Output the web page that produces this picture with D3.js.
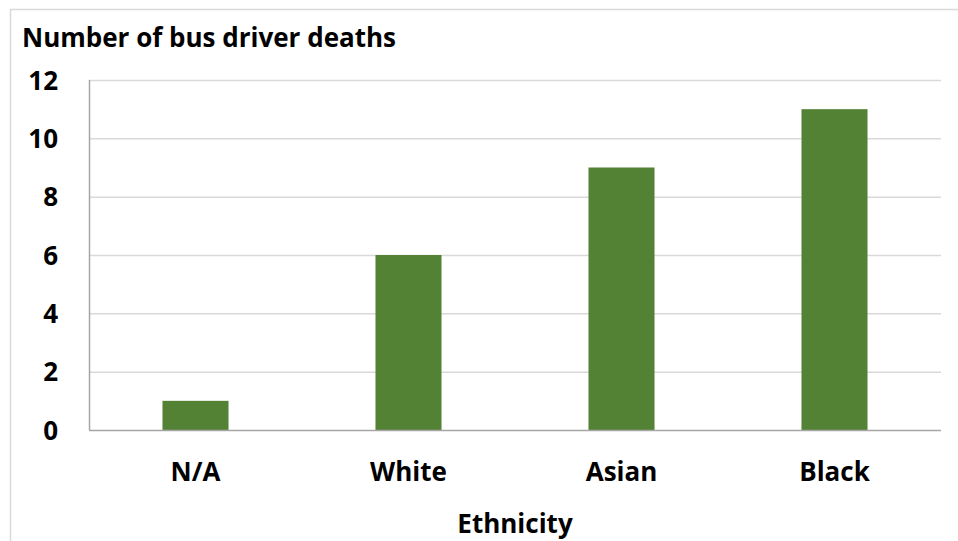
<!DOCTYPE html>
<html><head><meta charset="utf-8">
<script src="https://cdn.jsdelivr.net/npm/d3@7"></script>
<style>body{margin:0;background:#fff}svg{display:block}text{font-family:"Open Sans",sans-serif;font-weight:bold;fill:#000}</style>
</head><body>
<script>
const categories = ["N/A","White","Asian","Black"];
const values = [1,6,9,11];
const yTicks = [0,2,4,6,8,10,12];
const title = "Number of bus driver deaths";
const xTitle = "Ethnicity";

const W=958,H=541;
const svg=d3.select("body").append("svg").attr("width",W).attr("height",H);
svg.append("path").attr("d","M10.5,541 V9.5 H958").attr("fill","none").attr("stroke","#d9d9d9").attr("stroke-width",1.5);

// fit font size so the title spans its reference width
const probe=svg.append("text").style("font-size","24px").text(title);
const fs=Math.min(26,24*381/probe.node().getComputedTextLength());
probe.remove();

const m={l:89,r:941,t:80,b:430};
const x=d3.scaleBand().domain(categories).range([m.l,m.r]).paddingInner(0.69).paddingOuter(0.345);
const y=d3.scaleLinear().domain([0,12]).range([m.b,m.t]);

svg.append("g").selectAll("line").data(yTicks.filter(d=>d>0)).join("line")
 .attr("x1",m.l).attr("x2",m.r).attr("y1",d=>y(d)+0.5).attr("y2",d=>y(d)+0.5)
 .attr("stroke","#d9d9d9").attr("stroke-width",1.5);

svg.append("g").selectAll("rect").data(values).join("rect")
 .attr("x",(d,i)=>x(categories[i])).attr("width",x.bandwidth())
 .attr("y",d=>y(d)).attr("height",d=>y(0)-y(d)).attr("fill","#548235");

svg.append("line").attr("x1",m.l).attr("x2",m.r).attr("y1",m.b+0.5).attr("y2",m.b+0.5).attr("stroke","#a6a6a6").attr("stroke-width",1.5);
svg.append("line").attr("x1",m.l+0.5).attr("x2",m.l+0.5).attr("y1",m.t).attr("y2",m.b).attr("stroke","#a6a6a6").attr("stroke-width",1.5);

svg.append("g").selectAll("text").data(yTicks).join("text")
 .attr("x",58).attr("y",d=>y(d)+9.5).attr("text-anchor","end")
 .style("font-size",fs+"px").text(d=>d);

svg.append("g").selectAll("text").data(categories).join("text")
 .attr("x",d=>x(d)+x.bandwidth()/2).attr("y",480.5).attr("text-anchor","middle")
 .style("font-size",fs+"px").text(d=>d);

svg.append("text").attr("x",(m.l+m.r)/2).attr("y",532.5).attr("text-anchor","middle").style("font-size",fs+"px").text(xTitle);
svg.append("text").attr("x",22).attr("y",46.5).style("font-size",fs+"px").text(title);
</script>
</body></html>
